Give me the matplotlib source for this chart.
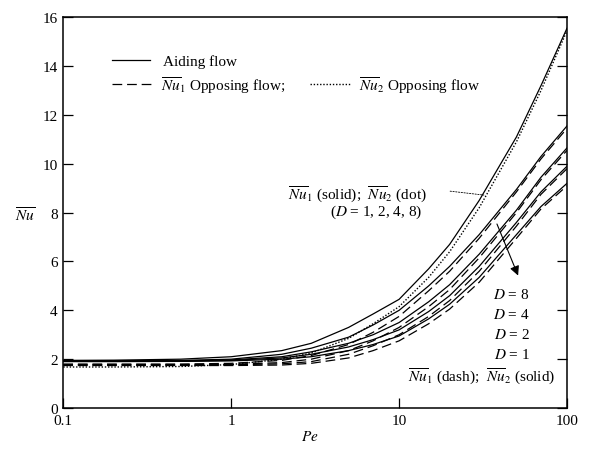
import matplotlib
matplotlib.use('Agg')
import matplotlib.pyplot as plt

plt.rcParams['font.family'] = ['Liberation Serif', 'DejaVu Serif']
plt.rcParams['mathtext.fontset'] = 'stix'
plt.rcParams['font.size'] = 11
plt.rcParams['lines.scale_dashes'] = False

# Peclet numbers where values were read
pe = [0.1, 0.2, 0.5, 1, 2, 3, 5, 7, 10, 15, 20, 30, 50, 70, 100]

# aiding flow (solid) and Nu2 opposing flow (dotted), top curves
aiding = [1.95, 1.96, 2.0, 2.1, 2.35, 2.65, 3.3, 3.85, 4.45, 5.7, 6.7, 8.5, 11.1, 13.2, 15.55]
nu2_dot = [1.68, 1.68, 1.7, 1.78, 2.0, 2.25, 2.85, 3.45, 4.15, 5.35, 6.4, 8.2, 10.9, 13.0, 15.45]

# lower group: Nu2 (solid) and Nu1 (dash) for D = 1, 2, 4, 8
d1_solid = [1.93, 1.93, 1.95, 2.0, 2.2, 2.45, 2.9, 3.4, 4.0, 5.0, 5.8, 7.1, 8.95, 10.3, 11.55]
d1_dash = [1.8, 1.8, 1.8, 1.83, 1.95, 2.15, 2.6, 3.1, 3.75, 4.8, 5.6, 6.95, 8.85, 10.2, 11.45]
d2_solid = [1.92, 1.92, 1.93, 1.97, 2.1, 2.3, 2.65, 3.0, 3.5, 4.35, 5.05, 6.3, 8.1, 9.45, 10.65]
d2_dash = [1.78, 1.78, 1.78, 1.79, 1.86, 2.0, 2.35, 2.75, 3.3, 4.15, 4.85, 6.15, 8.0, 9.35, 10.55]
d4_solid = [1.91, 1.91, 1.92, 1.95, 2.05, 2.2, 2.5, 2.8, 3.2, 3.95, 4.6, 5.8, 7.6, 8.85, 9.9]
d4_dash = [1.76, 1.76, 1.76, 1.77, 1.81, 1.9, 2.2, 2.55, 3.0, 3.75, 4.4, 5.6, 7.45, 8.75, 9.8]
d8_solid = [1.9, 1.9, 1.91, 1.93, 2.0, 2.1, 2.35, 2.6, 2.95, 3.65, 4.25, 5.35, 7.1, 8.25, 9.2]
d8_dash = [1.74, 1.74, 1.74, 1.74, 1.76, 1.83, 2.05, 2.35, 2.75, 3.45, 4.05, 5.15, 6.95, 8.15, 9.1]

x_ticks = [0.1, 1, 10, 100]
x_labels = ['0.1', '1', '10', '100']
y_ticks = [0, 2, 4, 6, 8, 10, 12, 14, 16]

fig = plt.figure(figsize=(5.96, 4.52), dpi=100)
ax = fig.add_axes([0.1062, 0.0951, 0.8451, 0.8644])

dash = (7, 3.5)
dot = (1, 1.3)

h_aid, = ax.plot(pe, aiding, color='k', lw=0.9)
h_dot, = ax.plot(pe, nu2_dot, color='k', lw=1.0, dashes=dot)
h_dash = None
for ys, yd in [(d1_solid, d1_dash), (d2_solid, d2_dash), (d4_solid, d4_dash), (d8_solid, d8_dash)]:
    ax.plot(pe, ys, color='k', lw=0.9)
    h_dash, = ax.plot(pe, yd, color='k', lw=0.9, dashes=dash)

ax.set_xscale('log')
ax.set_xlim(0.1, 100)
ax.set_ylim(0, 16)
ax.set_xticks(x_ticks)
ax.set_xticklabels(x_labels)
ax.set_yticks(y_ticks)
ax.minorticks_off()
ax.tick_params(direction='in', length=7, width=0.9, left=True, right=True, top=False, bottom=True,
               labelsize=11, pad=4)
for s in ax.spines.values():
    s.set_linewidth(1.1)

ax.set_xlabel('$Pe$', fontsize=11, va='center')
ax.xaxis.set_label_coords(0.49, -0.072)
ax.set_ylabel(r'$\overline{Nu}$', fontsize=11, rotation=0, ha='center', va='center')
ax.yaxis.set_label_coords(-0.076, 0.495)

# legend
leg1 = ax.legend([h_aid], ['Aiding flow'], loc='center left', bbox_to_anchor=(0.085, 0.888),
                 frameon=False, handlelength=2.5, handletextpad=0.8, borderaxespad=0, fontsize=11)
ax.add_artist(leg1)
ax.legend([h_dash, h_dot], [r'$\overline{Nu}_1$ Opposing flow;', r'$\overline{Nu}_2$ Opposing flow'],
          loc='center left', bbox_to_anchor=(0.085, 0.829), ncol=2, frameon=False,
          handlelength=2.6, handletextpad=0.6, columnspacing=1.6, borderaxespad=0, fontsize=11)

# annotations
ax.text(0.722, 0.548, r'$\overline{Nu}_1$ (solid);  $\overline{Nu}_2$ (dot)', transform=ax.transAxes,
        ha='right', va='center', fontsize=11)
ax.text(0.712, 0.504, '($D$ = 1, 2, 4, 8)', transform=ax.transAxes, ha='right', va='center', fontsize=11)
ax.annotate('', xy=(32, 8.72), xytext=(0.768, 0.555), textcoords='axes fraction',
            arrowprops=dict(arrowstyle='-', color='k', lw=0.6, linestyle=(0, (1, 1)),
                            shrinkA=0, shrinkB=0))

for lab, fy in [('8', 0.292), ('4', 0.241), ('2', 0.189), ('1', 0.138)]:
    ax.text(0.89, fy, '$D$ = ' + lab, transform=ax.transAxes, ha='center', va='center', fontsize=11)
ax.text(0.831, 0.082, r'$\overline{Nu}_1$ (dash);  $\overline{Nu}_2$ (solid)', transform=ax.transAxes,
        ha='center', va='center', fontsize=11)
ax.annotate('', xy=(0.903, 0.339), xytext=(0.861, 0.471), xycoords='axes fraction',
            arrowprops=dict(arrowstyle='-|>', color='k', lw=0.8, mutation_scale=14,
                            shrinkA=0, shrinkB=0))

plt.savefig('out.png', dpi=100)
